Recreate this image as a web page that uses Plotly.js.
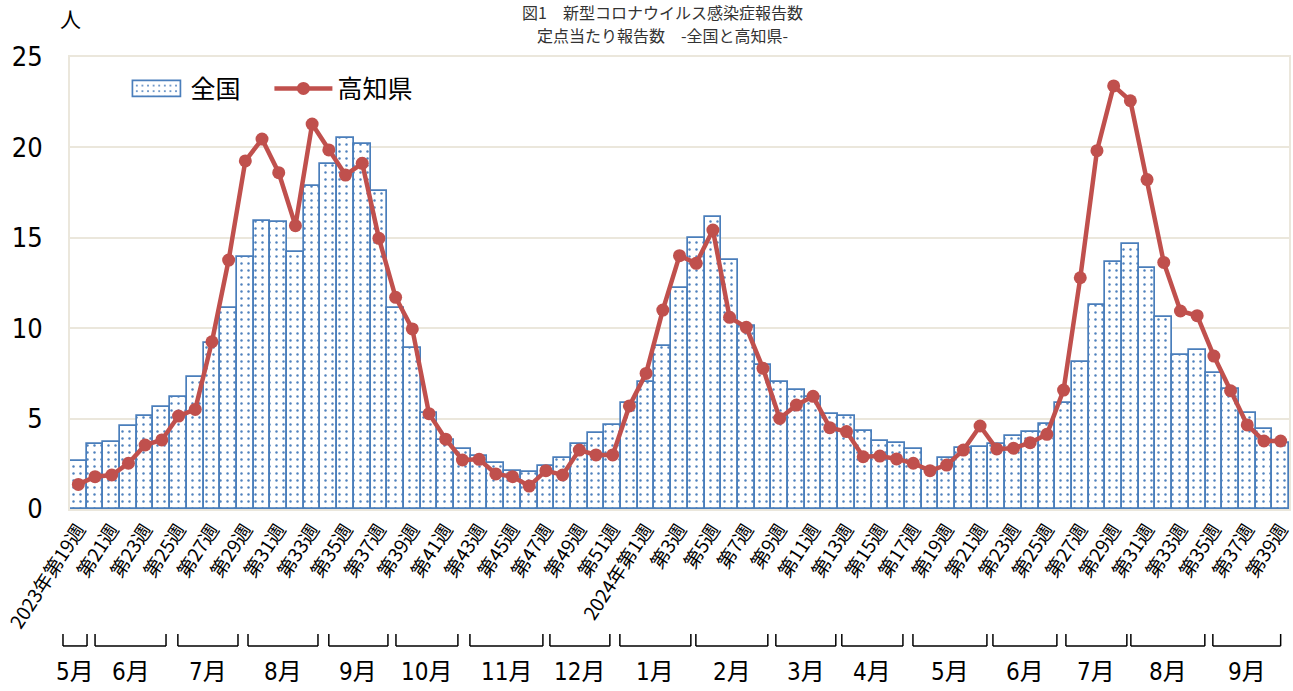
<!DOCTYPE html>
<html>
<head>
<meta charset="utf-8">
<script src="https://cdn.plot.ly/plotly-3.0.1.min.js"></script>
<style>
  html, body { margin: 0; padding: 0; background: #ffffff; }
  #chart { width: 1293px; height: 691px; }
</style>
</head>
<body>
<div id="chart"></div>
<script>
// ---- categories (weeks) ----
const weeks2023 = ['2023年第19週','2023年第20週','2023年第21週','2023年第22週','2023年第23週','2023年第24週','2023年第25週','2023年第26週','2023年第27週','2023年第28週','2023年第29週','2023年第30週','2023年第31週','2023年第32週','2023年第33週','2023年第34週','2023年第35週','2023年第36週','2023年第37週','2023年第38週','2023年第39週','2023年第40週','2023年第41週','2023年第42週','2023年第43週','2023年第44週','2023年第45週','2023年第46週','2023年第47週','2023年第48週','2023年第49週','2023年第50週','2023年第51週','2023年第52週'];
const weeks2024 = ['2024年第1週','2024年第2週','2024年第3週','2024年第4週','2024年第5週','2024年第6週','2024年第7週','2024年第8週','2024年第9週','2024年第10週','2024年第11週','2024年第12週','2024年第13週','2024年第14週','2024年第15週','2024年第16週','2024年第17週','2024年第18週','2024年第19週','2024年第20週','2024年第21週','2024年第22週','2024年第23週','2024年第24週','2024年第25週','2024年第26週','2024年第27週','2024年第28週','2024年第29週','2024年第30週','2024年第31週','2024年第32週','2024年第33週','2024年第34週','2024年第35週','2024年第36週','2024年第37週','2024年第38週','2024年第39週'];
const categories = weeks2023.concat(weeks2024);

// ---- tick labels (shown every other week) ----
const tickLabels = ['2023年第19週','第21週','第23週','第25週','第27週','第29週','第31週','第33週','第35週','第37週','第39週','第41週','第43週','第45週','第47週','第49週','第51週','2024年第1週','第3週','第5週','第7週','第9週','第11週','第13週','第15週','第17週','第19週','第21週','第23週','第25週','第27週','第29週','第31週','第33週','第35週','第37週','第39週'];

// ---- series values ----
const national = [2.65,3.6,3.7,4.6,5.15,5.65,6.2,7.3,9.2,11.1,13.95,15.95,15.85,14.2,17.85,19.1,20.5,20.2,17.6,11.1,8.9,5.3,3.82,3.32,2.95,2.53,2.1,2.03,2.4,2.84,3.6,4.22,4.65,5.84,
  7.04,9.02,12.24,14.97,16.17,13.77,10.12,7.96,7.04,6.58,6.18,5.25,5.14,4.33,3.78,3.67,3.3,2.15,2.84,3.36,3.45,3.6,4.06,4.24,4.68,5.88,8.15,11.28,13.68,14.66,13.31,10.64,8.52,8.79,7.54,6.62,5.33,4.41,3.63];
const kochi = [1.36,1.79,1.88,2.53,3.54,3.82,5.14,5.51,9.25,13.77,19.25,20.46,18.6,15.67,21.29,19.86,18.47,19.12,14.97,11.71,9.96,5.27,3.86,2.71,2.75,1.94,1.79,1.27,2.12,1.88,3.26,2.99,2.99,5.7,
  7.5,11.0,14.01,13.59,15.43,10.6,10.05,7.78,5.01,5.75,6.23,4.5,4.28,2.89,2.93,2.77,2.53,2.12,2.43,3.26,4.59,3.32,3.36,3.67,4.13,6.58,12.79,19.82,23.4,22.58,18.22,13.64,10.95,10.69,8.46,6.54,4.65,3.76,3.76];

// ---- month groups below the axis ----
const monthNames = ['5月','6月','7月','8月','9月','10月','11月','12月','1月','2月','3月','4月','5月','6月','7月','8月','9月'];
const monthFrom = [-0.92,1.0,5.96,10.16,15.0,19.02,23.45,28.24,32.43,36.98,41.77,45.72,49.98,54.77,59.14,63.03,67.94];
const monthTo   = [0.52,5.25,9.56,14.35,18.54,22.73,27.82,31.83,36.68,41.29,45.36,49.38,54.41,58.6,62.79,67.46,72.0];

// ---- title lines ----
const titleLines = ['図1　新型コロナウイルス感染症報告数', '定点当たり報告数　-全国と高知県-'];

const tickVals = categories.filter((c, i) => i % 2 === 0);

const BEIGE = '#ebe7dc';
const narrowFont = '"DejaVu Sans Condensed", "Liberation Sans", "Noto Sans CJK JP", sans-serif';
const jpFont = '"Noto Sans CJK JP", sans-serif';

const traces = [
  {
    type: 'bar',
    name: '全国',
    x: categories,
    y: national,
    marker: {
      color: '#ffffff',
      line: { color: '#4a7ebb', width: 1.7 },
      pattern: { shape: '.', fgcolor: '#4f81bd', bgcolor: '#ffffff', size: 7, solidity: 0.1 }
    },
    hoverinfo: 'x+y'
  },
  {
    type: 'scatter',
    mode: 'lines+markers',
    name: '高知県',
    x: categories,
    y: kochi,
    line: { color: '#c0504d', width: 4.5 },
    marker: { color: '#c0504d', size: 13 },
    hoverinfo: 'x+y'
  }
];

const nCat = categories.length;
const toPaper = v => (v + 0.5) / nCat;
const shapes = [];
const annotations = [];
const yTop = -0.2765, yBot = -0.303;
for (let i = 0; i < monthNames.length; i++) {
  const a = toPaper(monthFrom[i]), b = toPaper(monthTo[i]);
  const ln = { color: '#000000', width: 1.5 };
  shapes.push({ type: 'line', xref: 'paper', yref: 'paper', x0: a, x1: a, y0: yTop, y1: yBot, line: ln });
  shapes.push({ type: 'line', xref: 'paper', yref: 'paper', x0: a, x1: b, y0: yBot, y1: yBot, line: ln });
  shapes.push({ type: 'line', xref: 'paper', yref: 'paper', x0: b, x1: b, y0: yTop, y1: yBot, line: ln });
  annotations.push({
    xref: 'paper', yref: 'paper', x: (a + b) / 2, y: -0.3606, yanchor: 'middle', xanchor: 'center',
    text: monthNames[i], showarrow: false,
    font: { family: narrowFont, size: 24, color: '#000000' }
  });
}
annotations.push({
  xref: 'paper', yref: 'paper', x: 0, y: 1.086, xanchor: 'center', yanchor: 'middle',
  text: '人', showarrow: false, font: { family: jpFont, size: 21, color: '#000000' }
});
// two title lines (container-relative positions)
const titleCenters = [12, 35]; // px from top
titleLines.forEach((t, i) => {
  annotations.push({
    xref: 'paper', yref: 'paper',
    x: (662 - 70) / 1219, y: (509 - titleCenters[i]) / 452,
    xanchor: 'center', yanchor: 'middle', showarrow: false,
    text: t, font: { family: jpFont, size: 16, color: '#333333' }
  });
});

const layout = {
  width: 1293,
  height: 691,
  margin: { l: 70, r: 4, t: 57, b: 182 },
  paper_bgcolor: '#ffffff',
  plot_bgcolor: '#ffffff',
  bargap: 0,
  showlegend: true,
  legend: {
    orientation: 'h', x: 0.043, y: 0.93, xanchor: 'left', yanchor: 'middle',
    bgcolor: 'rgba(0,0,0,0)', font: { family: jpFont, size: 25, color: '#000000' },
    itemwidth: 58, entrywidth: 74, entrywidthmode: 'pixels', tracegroupgap: 0
  },
  xaxis: {
    type: 'category',
    tickmode: 'array',
    tickvals: tickVals,
    ticktext: tickLabels,
    tickangle: -57,
    tickfont: { family: jpFont, size: 19, color: '#000000' },
    showline: true, linecolor: BEIGE, linewidth: 2, mirror: true,
    showgrid: false, ticks: '', zeroline: false,
    range: [-0.5, nCat - 0.5]
  },
  yaxis: {
    range: [0, 25],
    dtick: 5,
    tickfont: { family: narrowFont, size: 27, color: '#000000' },
    showline: true, linecolor: BEIGE, linewidth: 2, mirror: true,
    showgrid: true, gridcolor: BEIGE, gridwidth: 2,
    zeroline: false, ticks: '', ticklabelstandoff: 20
  },
  shapes: shapes,
  annotations: annotations
};

const gd = document.getElementById('chart');
function widenBarSwatch() {
  const tr = gd.querySelectorAll('.legend .traces');
  if (!tr.length) return;
  const p = tr[0].querySelector('.legendpoints path');
  if (p) p.setAttribute('d', 'M24,8H-24V-8H24Z');
}
Plotly.newPlot(gd, traces, layout, { displayModeBar: false, responsive: false }).then(() => {
  widenBarSwatch();
  gd.on('plotly_afterplot', widenBarSwatch);
});
</script>
</body>
</html>
